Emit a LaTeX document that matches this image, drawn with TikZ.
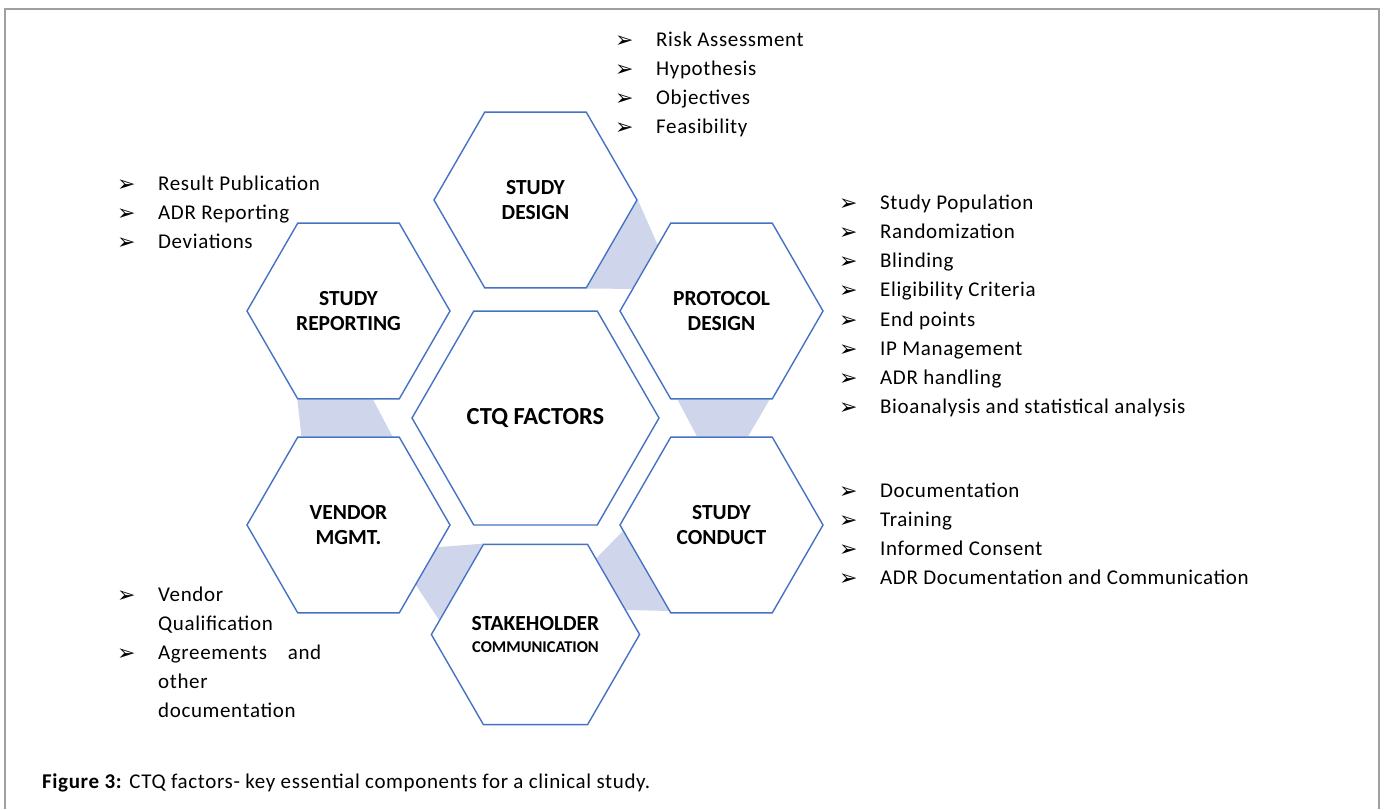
\documentclass[tikz,border=0pt]{standalone}
\usepackage{fontspec}
\setmainfont{Carlito}
\newfontfamily\listfont[LetterSpace=3]{Carlito}
\newfontfamily\symfont{DejaVu Sans}
\usetikzlibrary{shapes.geometric,calc,backgrounds}

\definecolor{hexblue}{HTML}{4472C4}
\definecolor{hexshade}{RGB}{207,213,234}
\definecolor{framegray}{RGB}{160,160,160}

\newcommand\bul{\hbox to 41pt{\raisebox{-1pt}{\symfont\fontsize{22}{22}\selectfont ➢}\hfil}}

\tikzset{
  hexa/.style={regular polygon,regular polygon sides=6,draw=hexblue,line width=1.4pt,
    fill=white,minimum size=203pt,inner sep=0pt,align=center,
    font=\fontsize{21.5}{25}\selectfont\bfseries},
  item/.style={anchor=base west,inner sep=0pt,font=\listfont\fontsize{21}{24}\selectfont},
  shade/.style={fill=hexshade,draw=none}
}

\begin{document}
\begin{tikzpicture}[x=1pt,y=-1pt]
\useasboundingbox (0,0) rectangle (1384,809);
\draw[framegray,line width=1.8pt] (5,809) -- (5,9) -- (1379,9) -- (1379,809);

% hexagons
\node[hexa,minimum size=247pt,font=\fontsize{24.5}{28}\selectfont\bfseries] (ctq) at (535.5,418) {CTQ FACTORS};
\node[hexa] (sd) at (535.5,200) {STUDY\\DESIGN};
\node[hexa] (pd) at (721.5,311) {PROTOCOL\\DESIGN};
\node[hexa] (sc) at (721.5,525) {STUDY\\CONDUCT};
\node[hexa,minimum size=208pt] (sh) at (535.5,634.5) {STAKEHOLDER\\[-3pt]{\fontsize{16.5}{18}\selectfont COMMUNICATION}};
\node[hexa] (vm) at (348.5,525) {VENDOR\\MGMT.};
\node[hexa] (sr) at (348.5,311) {STUDY\\REPORTING};

% links between neighbours
\begin{scope}[on background layer]
\fill[shade] (sd.0) -- ($(pd.120)!.25!(pd.180)$) -- ($(pd.120)!.75!(pd.180)$) -- (sd.-60) -- cycle;
\fill[shade] ($(pd.-120)!.07!(pd.-60)$) -- ($(pd.-120)!.97!(pd.-60)$) -- ($(sc.120)!.76!(sc.60)$) -- ($(sc.120)!.26!(sc.60)$) -- cycle;
\fill[shade] ($(sc.180)!.07!(sc.-120)$) -- ($(sc.180)!.97!(sc.-120)$) -- ($(sh.60)!.73!(sh.0)$) -- ($(sh.60)!.16!(sh.0)$) -- cycle;
\fill[shade] ($(vm.0)!.25!(vm.-60)$) -- (sh.120) -- ($(sh.120)!.84!(sh.180)$) -- ($(vm.0)!.68!(vm.-60)$) -- cycle;
\fill[shade] ($(sr.-120)!0!(sr.-60)$) -- ($(sr.-120)!.74!(sr.-60)$) -- ($(vm.120)!.93!(vm.60)$) -- ($(vm.120)!.04!(vm.60)$) -- cycle;
\end{scope}

% lists
\foreach \txt [count=\i from 0] in {Risk Assessment,Hypothesis,Objectives,Feasibility}
  \node[item] (sd-\i) at (615,46.5+29*\i) {\bul\txt};
\foreach \txt [count=\i from 0] in {Result Publication,ADR Reporting,Deviations}
  \node[item] (sr-\i) at (117,190.5+29*\i) {\bul\txt};
\foreach \txt [count=\i from 0] in {Study Population,Randomization,Blinding,Eligibility Criteria,End points,IP Management,ADR handling,Bioanalysis and statistical analysis}
  \node[item] (pd-\i) at (839,209.5+29.14*\i) {\bul\txt};
\foreach \txt [count=\i from 0] in {Documentation,Training,Informed Consent,ADR Documentation and Communication}
  \node[item] (sc-\i) at (839,497.5+29*\i) {\bul\txt};
\node[item] (vm-0) at (117,601.5) {\bul Vendor};
\node[item] (vm-1) at (158,630.5) {Qualification};
\node[item] (vm-2) at (117,659.5) {\bul\hbox to 163pt{Agreements\hfill and}};
\node[item] (vm-3) at (158,688.5) {other};
\node[item] (vm-4) at (158,717.5) {documentation};

\node[item] (cap) at (42,788) {\textbf{Figure 3:} CTQ factors- key essential components for a clinical study.};
\end{tikzpicture}
\end{document}
